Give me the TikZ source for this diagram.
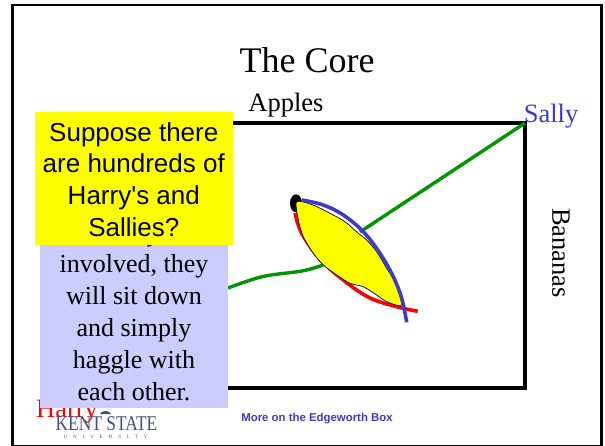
\documentclass[tikz,border=0pt]{standalone}
\usepackage{fontspec}
\setmainfont{Liberation Serif}
\newfontfamily\arialf{Liberation Sans}
\definecolor{sallyblue}{RGB}{60,60,200}
\definecolor{boxblue}{RGB}{204,204,255}
\definecolor{cgreen}{RGB}{0,150,0}
\definecolor{kent}{RGB}{70,80,115}
\definecolor{lens}{RGB}{255,255,0}
\tikzset{
 x=1pt,y=-1pt,
 lbl/.style={inner sep=0pt,font=\fontsize{26.5}{30}\selectfont},
 curve/.style={line width=3.6pt},
 greenline/.style={cgreen,line width=3.4pt},
 boxtext/.style={font=\fontsize{26}{32}\selectfont,align=center,inner sep=0pt,text=black},
}
\begin{document}
\begin{tikzpicture}
\useasboundingbox (0,0) rectangle (605,446);
\draw[line width=1.8pt] (12.5,5.2) -- (601,5.2);
\draw[line width=3pt] (12.8,4.5) -- (12.8,446);
\draw[line width=2.5pt] (601.3,4.5) -- (601.3,446);
\draw[line width=1.6pt] (12,445.3) -- (602,445.3);
\node[lbl,font=\fontsize{36}{40}\selectfont] (title) at (307,60) {The Core};
\node[lbl] (apples) at (286,105) {Apples};
\node[lbl,text=sallyblue] (sally) at (551,116) {Sally};
\node[lbl,rotate=-90] (bananas) at (561,253) {Bananas};
\node[lbl,text=red,anchor=base west] (harry) at (36,417) {Harry};
\coordinate (tr) at (525,123);
\coordinate (tl) at (200,123);
\coordinate (br) at (525,388);
\coordinate (bl) at (200,388);
\draw[line width=3.4pt,line cap=rect] (tl) -- (tr) -- (br) -- (bl);
% contract curve
\coordinate (cs) at (360,232);
\draw[greenline] (tr) -- (cs);
\draw[greenline] plot[smooth,tension=0.6] coordinates {(323,265) (302,271) (263,276.5) (228,288)};
% indifference curves and lens
\draw[red,curve] plot[smooth,tension=0.6] coordinates {(295,213) (301.7,233.3) (319,258) (342,279) (369,297.5) (396.7,306.7) (417.7,311.3)};
\fill (296,203.3) ellipse (6 and 9);
\draw[fill=lens,line width=0.7pt] plot[smooth cycle,tension=0.45] coordinates {(296.7,201.7) (313,205) (330,213.3) (345,221.7) (358.3,233.3) (366.7,240) (376.7,251.7) (386.7,268.3) (395,281.7) (401.7,305) (386.7,301.7) (376.7,295) (363.3,286.7) (350,283.3) (336.7,275) (323.3,265) (313.3,253.3) (303.3,236.7) (298.3,220)};
\draw[sallyblue,curve] plot[smooth,tension=0.6] coordinates {(301.7,200) (323.3,205) (343.3,215) (363.3,231.7) (380,253.3) (393.3,276.7) (401.7,298.3) (406.7,322.3)};
% boxes
\node[fill=boxblue,minimum width=188pt,minimum height=187pt,inner sep=0pt] (bluebox) at (134,314) {};
\node[boxtext,anchor=north] (bluetext) at (134,254) {involved, they\\will sit down\\and simply\\haggle with\\each other.};
\node[inner sep=0pt,font=\fontsize{26}{30}\selectfont,anchor=base] (tail) at (153,241.5) {y};
\node[fill=lens,minimum width=198pt,minimum height=133pt,inner sep=0pt] (yellowbox) at (133.8,178.5) {};
\node[font=\arialf\fontsize{26}{31.6}\selectfont,align=center,inner sep=0pt] (yellowtext) at (133.8,179.5) {Suppose there\\are hundreds of\\Harry's and\\Sallies?};
% footer
\fill[kent] (100,414) .. controls (101,410) and (110,410) .. (111,414) -- cycle;
\node[inner sep=0pt,text=kent,xscale=0.83,font=\fontsize{21}{22}\selectfont] (kent) at (106.5,424) {KENT STATE};
\node[inner sep=0pt,text=kent,font=\fontsize{5}{6}\selectfont] (univ) at (105.5,437) {U\hspace{6pt}N\hspace{6pt}I\hspace{6pt}V\hspace{6pt}E\hspace{6pt}R\hspace{6pt}S\hspace{6pt}I\hspace{6pt}T\hspace{6pt}Y};
\node[inner sep=0pt,text=sallyblue,font=\arialf\bfseries\fontsize{11.4}{13}\selectfont] (foot) at (317,419) {More on the Edgeworth Box};
\end{tikzpicture}
\end{document}
